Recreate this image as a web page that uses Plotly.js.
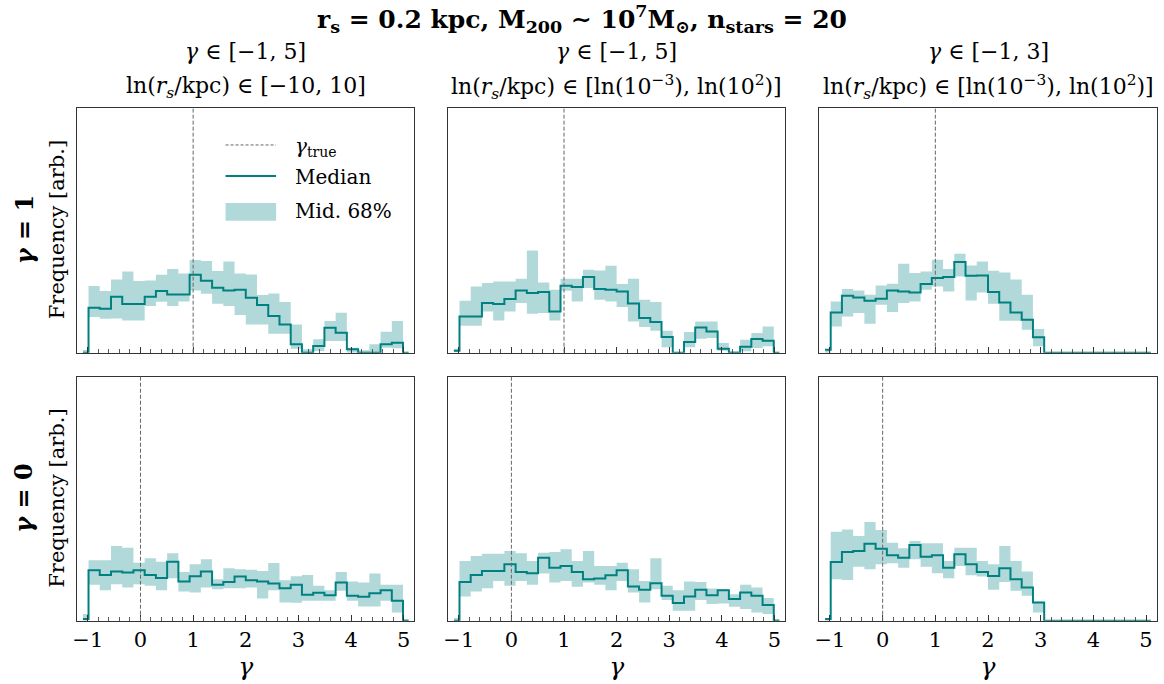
<!DOCTYPE html>
<html><head><meta charset="utf-8">
<script src="https://cdn.plot.ly/plotly-3.0.1.min.js"></script>
<style>body{margin:0;background:#fff}</style></head>
<body><div id="chart" style="width:1164px;height:684px"></div>
<script>
// bin centres (30 bins spanning -1.2 .. 5.2)
const binCenters = [-1.093, -0.880, -0.667, -0.453, -0.240, -0.027, 0.187, 0.400, 0.613, 0.827,
  1.040, 1.253, 1.467, 1.680, 1.893, 2.107, 2.320, 2.533, 2.747, 2.960,
  3.173, 3.387, 3.600, 3.813, 4.027, 4.240, 4.453, 4.667, 4.880, 5.093];

// row gamma_true = 1
const medA1 = [0, 45, 44, 56, 48.7, 48.7, 56, 61.7, 58.3, 58.3, 78, 72, 65, 62.3, 63, 55, 47.7, 36.7, 28.3, 8.3, 0, 6.7, 25, 20, 3.3, 0, 0, 8.3, 10, 0];
const loA1  = [0, 35.7, 34, 34.3, 32.3, 32.3, 46.7, 51, 46.7, 51.3, 62.3, 59, 49, 46.7, 37.7, 28.3, 28.3, 19, 19, 4, 0, 1.7, 11.7, 11.7, 0, 0, 0, 5, 4.3, 0];
const hiA1  = [2.7, 66.7, 61.7, 73.3, 81.3, 71.7, 72.3, 78, 83.7, 79.3, 92.7, 91.7, 81.7, 91.3, 79.3, 78.3, 57.7, 59.3, 50.7, 28.3, 3.3, 13.3, 31.7, 40, 5, 2.3, 8.3, 21, 31.7, 0];

const medB1 = [2, 36.3, 36.3, 49.7, 48.7, 53.7, 62.3, 59.7, 60.7, 41.3, 67, 65.7, 75.7, 63.7, 63, 61.3, 49.3, 34.7, 30.7, 15.7, 0, 10.7, 25.3, 21.3, 4, 0, 6, 13.7, 12, 0];
const loB1  = [0.7, 27, 27, 41.3, 32.3, 41.3, 49.7, 39, 39.7, 32.3, 62, 51.3, 64.7, 53, 51.3, 45.7, 31.3, 25.7, 22, 5.3, 0, 5.3, 14, 14.7, 2, 0, 1.3, 4.7, 6.3, 0];
const hiB1  = [4, 52, 66.3, 69.7, 71.3, 71.3, 74, 102.3, 70.3, 63, 74, 74, 83, 82.3, 87, 68.7, 74, 53, 50.7, 22, 0, 20.7, 31.3, 31.3, 9.7, 1.3, 13, 19.7, 26.3, 0];

const medC1 = [3, 40.3, 57, 55.3, 52, 54, 62.3, 61.3, 60.3, 68.7, 74.7, 75.7, 90.7, 77, 77.3, 60.7, 50.3, 40.3, 33, 15.3, 0, 0, 0, 0, 0, 0, 0, 0, 0, 0];
const loC1  = [0, 26.3, 36.3, 39.7, 29, 48, 40.7, 49.7, 51.3, 63, 66.3, 61.3, 76.3, 52.3, 60.3, 49, 32, 32, 23, 6.3, 0, 0, 0, 0, 0, 0, 0, 0, 0, 0];
const hiC1  = [3.7, 51.3, 63.7, 62.3, 58, 67.3, 69, 89, 79.7, 81.3, 93, 83.7, 99, 87.3, 91.3, 82, 80.3, 73.3, 58, 23.7, 0, 0, 0, 0, 0, 0, 0, 0, 0, 0];

// row gamma_true = 0
const medA0 = [1.7, 50.7, 46, 49.3, 48.3, 50.7, 46, 43, 59.3, 39.3, 44.7, 49.3, 36, 39, 44.3, 40.7, 39.3, 37.3, 32.7, 36, 26, 28, 25.7, 38.3, 25, 24, 27.7, 30.7, 20, 0];
const loA0  = [0, 36, 30.7, 36.7, 33.3, 36.7, 35, 30.7, 42.7, 29.3, 28.3, 33.3, 31.7, 32.7, 32.7, 33.3, 22.3, 30.7, 18.3, 18, 20, 20, 20, 30, 20, 14.3, 14.3, 20, 8.3, 0];
const hiA0  = [6.7, 60.7, 60.7, 75, 73.3, 58.3, 62.7, 59.3, 67.7, 49, 56.7, 61.7, 41.7, 52.7, 51.7, 51.3, 50, 58, 40.7, 44.7, 46, 35, 30.7, 49, 39.3, 38.3, 47.3, 36, 36, 1.7];

const medB0 = [0, 39, 46, 50, 50, 56.7, 49, 47.7, 63.3, 53.3, 55, 49, 41.7, 42.3, 45.7, 50.7, 34.3, 31, 37.7, 25, 17.7, 24.3, 31, 25.7, 30.7, 21.7, 28.3, 25, 15.7, 0];
const loB0  = [0, 24.3, 29.3, 32.7, 40, 35, 40, 36, 47.3, 38.3, 40, 34, 38.3, 36, 30.7, 40, 28.3, 18.3, 31.7, 20.7, 10, 10, 20.7, 16.7, 17.3, 14, 11.7, 8.3, 6.7, 0];
const hiB0  = [2.7, 60, 65, 67.3, 67.3, 70, 67.7, 60, 68.3, 69, 71.7, 60, 70, 55, 55, 58.3, 51.7, 40, 62.7, 35, 30.7, 39.3, 39, 32.3, 31.7, 26.7, 36, 33.3, 22.7, 1.7];

const medC0 = [1.7, 59, 69, 70, 77.3, 72.3, 65.7, 63.3, 76, 64.3, 65.7, 53.3, 66.7, 56.7, 49, 45, 52.7, 41.7, 33.3, 18.3, 0, 0, 0, 0, 0, 0, 0, 0, 0, 0];
const loC0  = [0, 41.7, 41, 54.3, 51.7, 56.7, 57.7, 53.3, 61.7, 54.3, 47.7, 42.7, 55, 45.7, 44.3, 31, 39, 30, 25, 8.3, 0, 0, 0, 0, 0, 0, 0, 0, 0, 0];
const hiC0  = [2.7, 89.3, 91.7, 85, 99, 91, 78.3, 72.7, 80, 77.7, 77.7, 60, 73.3, 73.3, 60, 56.7, 75, 60, 49.3, 19, 0, 0, 0, 0, 0, 0, 0, 0, 0, 0];

const gammaTrueRows = [1, 0];
const rowLabels = ['<b><i>γ</i> = 1</b>', '<b><i>γ</i> = 0</b>'];
const colTitles1 = ['<i>γ</i> ∈ [−1, 5]', '<i>γ</i> ∈ [−1, 5]', '<i>γ</i> ∈ [−1, 3]'];
const colTitles2 = ['ln(<i>r<sub>s</sub></i>/kpc) ∈ [−10, 10]',
                    'ln(<i>r<sub>s</sub></i>/kpc) ∈ [ln(10<sup>−3</sup>), ln(10<sup>2</sup>)]',
                    'ln(<i>r<sub>s</sub></i>/kpc) ∈ [ln(10<sup>−3</sup>), ln(10<sup>2</sup>)]'];
const xTickVals = [-1, 0, 1, 2, 3, 4, 5];

const panels = [
  [[medA1, loA1, hiA1], [medB1, loB1, hiB1], [medC1, loC1, hiC1]],
  [[medA0, loA0, hiA0], [medB0, loB0, hiB0], [medC0, loC0, hiC0]]
];

const TEAL = '#008080';
const BAND = 'rgba(0,128,128,0.3)';
const FONT = 'DejaVu Serif';
const FRAME = '#333333';

const xDom = [[0.0664, 0.3559], [0.3851, 0.6744], [0.7040, 0.9936]];
const yDom = [[0.4844, 0.8425], [0.0925, 0.4493]];

const traces = [];
const layout = {
  width: 1164, height: 684,
  margin: {l: 0, r: 0, t: 0, b: 0},
  paper_bgcolor: '#fff', plot_bgcolor: '#fff',
  showlegend: false,
  font: {family: FONT, color: '#000'},
  title: {text: '<b>r<sub>s</sub> = 0.2 kpc, M<sub>200</sub> ∼ 10<sup>7</sup>M<sub>⊙</sub>, n<sub>stars</sub> = 20</b>',
          x: 0.5, xanchor: 'center', y: 1 - 19/684, yanchor: 'middle', yref: 'container',
          font: {family: FONT, size: 25, color: '#000'}},
  shapes: [], annotations: []
};

for (let r = 0; r < 2; r++) {
  for (let c = 0; c < 3; c++) {
    const idx = r * 3 + c + 1;
    const xa = 'x' + (idx === 1 ? '' : idx);
    const ya = 'y' + (idx === 1 ? '' : idx);
    const [med, lo, hi] = panels[r][c];
    traces.push({x: binCenters, y: lo, xaxis: xa, yaxis: ya, type: 'scatter', mode: 'lines',
      line: {shape: 'hvh', width: 0, color: BAND}, hoverinfo: 'skip'});
    traces.push({x: binCenters, y: hi, xaxis: xa, yaxis: ya, type: 'scatter', mode: 'lines',
      line: {shape: 'hvh', width: 0, color: BAND}, fill: 'tonexty', fillcolor: BAND, hoverinfo: 'skip'});
    traces.push({x: binCenters, y: med, xaxis: xa, yaxis: ya, type: 'scatter', mode: 'lines',
      line: {shape: 'hvh', width: 2, color: TEAL}});

    const xKey = 'xaxis' + (idx === 1 ? '' : idx);
    const yKey = 'yaxis' + (idx === 1 ? '' : idx);
    layout[xKey] = {
      domain: xDom[c], anchor: ya, range: [-1.2, 5.2],
      tickmode: 'array', tickvals: xTickVals,
      ticks: 'inside', ticklen: 6, tickwidth: 1, tickcolor: FRAME,
      minor: {ticks: 'inside', ticklen: 3.5, tickwidth: 0.8, tickcolor: FRAME, dtick: 0.2, tick0: 0, showgrid: false},
      showline: true, mirror: true, linecolor: FRAME, linewidth: 1,
      showgrid: false, zeroline: false, automargin: false,
      showticklabels: r === 1,
      tickfont: {family: FONT, size: 21, color: '#000'},
      title: r === 1 ? {text: '<i>γ</i>', font: {family: FONT, size: 25, color: '#000'}, standoff: 0} : {text: ''}
    };
    layout[yKey] = {
      domain: yDom[r], anchor: xa, range: [0, 245],
      showticklabels: false, ticks: '', showgrid: false, zeroline: false,
      showline: true, mirror: true, linecolor: FRAME, linewidth: 1, automargin: false
    };
    layout.shapes.push({type: 'line', xref: xa, yref: ya + ' domain',
      x0: gammaTrueRows[r], x1: gammaTrueRows[r], y0: 0, y1: 1,
      line: {color: '#666', width: 1, dash: '4px,2px'}});
  }
}

// column titles
for (let c = 0; c < 3; c++) {
  const xc = (xDom[c][0] + xDom[c][1]) / 2;
  layout.annotations.push({text: colTitles1[c], xref: 'paper', yref: 'paper', x: xc, y: 1 - 51/684,
    xanchor: 'center', yanchor: 'middle', showarrow: false, font: {family: FONT, size: 22}});
  layout.annotations.push({text: colTitles2[c], xref: 'paper', yref: 'paper', x: xc, y: 1 - 87/684,
    xanchor: 'center', yanchor: 'middle', showarrow: false, font: {family: FONT, size: 22}});
}
// row labels and y titles
for (let r = 0; r < 2; r++) {
  const yc = (yDom[r][0] + yDom[r][1]) / 2;
  layout.annotations.push({text: rowLabels[r], xref: 'paper', yref: 'paper', x: 24/1164, y: yc,
    xanchor: 'center', yanchor: 'middle', textangle: -90, showarrow: false, font: {family: FONT, size: 24}});
  layout.annotations.push({text: 'Frequency [arb.]', xref: 'paper', yref: 'paper', x: 57/1164, y: yc,
    xanchor: 'center', yanchor: 'middle', textangle: -90, showarrow: false, font: {family: FONT, size: 21}});
}

// legend (drawn in the top-left panel)
layout.shapes.push({type: 'line', xref: 'x domain', yref: 'y domain', x0: 0.440, x1: 0.590, y0: 0.848, y1: 0.848,
  line: {color: '#666', width: 1, dash: '3px,2px'}});
layout.shapes.push({type: 'line', xref: 'x domain', yref: 'y domain', x0: 0.440, x1: 0.590, y0: 0.721, y1: 0.721,
  line: {color: TEAL, width: 2}});
layout.shapes.push({type: 'rect', xref: 'x domain', yref: 'y domain', x0: 0.440, x1: 0.590, y0: 0.539, y1: 0.611,
  line: {width: 0}, fillcolor: BAND});
const legendTexts = ['<i>γ</i><sub>true</sub>', 'Median', 'Mid. 68%'];
const legendY = [0.840, 0.717, 0.577];
for (let i = 0; i < 3; i++) {
  layout.annotations.push({text: legendTexts[i], xref: 'x domain', yref: 'y domain', x: 0.640, y: legendY[i],
    xanchor: 'left', yanchor: 'middle', showarrow: false, font: {family: FONT, size: 20}});
}

Plotly.newPlot('chart', traces, layout, {displayModeBar: false, staticPlot: true});
</script>
</body></html>
